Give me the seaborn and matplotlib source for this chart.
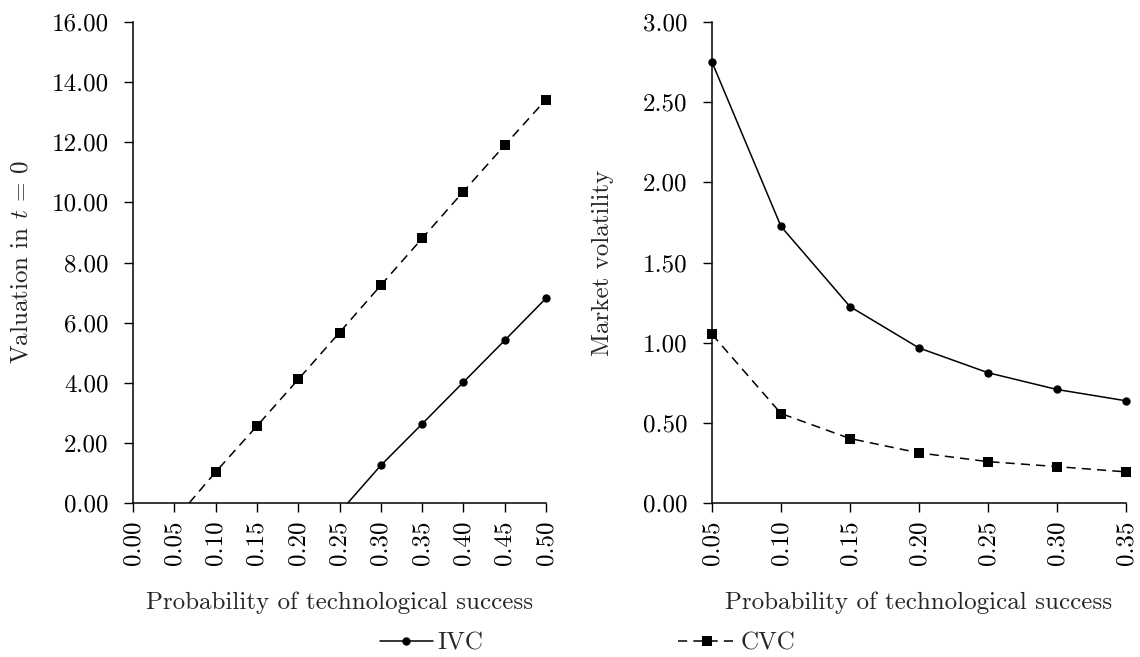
import matplotlib
matplotlib.use("Agg")
import matplotlib.pyplot as plt
import seaborn as sns
from matplotlib.lines import Line2D

# ---- data ----
left_x_cvc = [0.068, 0.10, 0.15, 0.20, 0.25, 0.30, 0.35, 0.40, 0.45, 0.50]
left_cvc = [0.0, 1.03, 2.56, 4.11, 5.67, 7.24, 8.80, 10.36, 11.90, 13.42]
left_x_ivc = [0.260, 0.30, 0.35, 0.40, 0.45, 0.50]
left_ivc = [0.0, 1.25, 2.63, 4.02, 5.41, 6.81]

right_x = [0.05, 0.10, 0.15, 0.20, 0.25, 0.30, 0.35]
right_ivc = [2.75, 1.725, 1.225, 0.967, 0.8125, 0.708, 0.6375]
right_cvc = [1.052, 0.558, 0.402, 0.3125, 0.258, 0.227, 0.194]

left_xticks = [0.00, 0.05, 0.10, 0.15, 0.20, 0.25, 0.30, 0.35, 0.40, 0.45, 0.50]
left_yticks = [0, 2, 4, 6, 8, 10, 12, 14, 16]
right_xticks = [0.05, 0.10, 0.15, 0.20, 0.25, 0.30, 0.35]
right_yticks = [0.0, 0.5, 1.0, 1.5, 2.0, 2.5, 3.0]

sns.set_theme(style="ticks")
plt.rcParams["font.family"] = ["cmr10", "DejaVu Serif"]
plt.rcParams["mathtext.fontset"] = "cm"
plt.rcParams["axes.formatter.use_mathtext"] = True
FS = 18

W, H = 1140, 657
fig = plt.figure(figsize=(W / 100, H / 100), dpi=100)
ax_top, ax_bot = 22, 503
ax1 = fig.add_axes([133 / W, 1 - ax_bot / H, (546 - 133) / W, (ax_bot - ax_top) / H])
ax2 = fig.add_axes([712 / W, 1 - ax_bot / H, (1126 - 712) / W, (ax_bot - ax_top) / H])

lw = 1.1
ms_c, ms_s = 6.0, 7.0
dash = (0, (6, 4))

sns.lineplot(x=left_x_cvc, y=left_cvc, ax=ax1, markevery=list(range(1, len(left_cvc))),
             color="black", linewidth=lw, marker="s", markersize=ms_s, linestyle=dash,
             markeredgewidth=0, clip_on=False)
sns.lineplot(x=left_x_ivc, y=left_ivc, ax=ax1, markevery=list(range(1, len(left_ivc))),
             color="black", linewidth=lw, marker="o", markersize=ms_c, linestyle="-",
             markeredgewidth=0, clip_on=False)

sns.lineplot(x=right_x, y=right_ivc, ax=ax2, color="black", linewidth=lw, marker="o",
             markersize=ms_c, linestyle="-", markeredgewidth=0, clip_on=False)
sns.lineplot(x=right_x, y=right_cvc, ax=ax2, color="black", linewidth=lw, marker="s",
             markersize=ms_s, linestyle=dash, markeredgewidth=0, clip_on=False)

for ax in (ax1, ax2):
    sns.despine(ax=ax)
    for s in ("left", "bottom"):
        ax.spines[s].set_linewidth(1.1)
        ax.spines[s].set_color("black")
        ax.spines[s].set_zorder(1)
    ax.tick_params(axis="both", direction="out", length=6.5, width=1.0, colors="black",
                   labelsize=FS)
    ax.tick_params(axis="y", pad=11)
    ax.tick_params(axis="x", labelrotation=90, pad=6)
    ax.grid(False)

ax1.set_xlim(0, 0.5)
ax1.set_ylim(0, 16)
ax1.set_xticks(left_xticks)
ax1.set_xticklabels([f"{v:.2f}" for v in left_xticks])
ax1.set_yticks(left_yticks)
ax1.set_yticklabels([f"{v:.2f}" for v in left_yticks])
ax1.set_xlabel("Probability of technological success", fontsize=FS, labelpad=19)
ax1.set_ylabel(r"Valuation in $t$ = $\mathit{0}$", fontsize=FS)
ax1.yaxis.set_label_coords((33 - 133) / 413, 0.5)

ax2.set_xlim(0.05, 0.35)
ax2.set_ylim(0, 3)
ax2.set_xticks(right_xticks)
ax2.set_xticklabels([f"{v:.2f}" for v in right_xticks])
ax2.set_yticks(right_yticks)
ax2.set_yticklabels([f"{v:.2f}" for v in right_yticks])
ax2.set_xlabel("Probability of technological success", fontsize=FS, labelpad=19)
ax2.set_ylabel("Market volatility", fontsize=FS)
ax2.yaxis.set_label_coords((614 - 712) / 414, 0.5)

h_ivc = Line2D([], [], color="black", linewidth=lw, marker="o", markersize=ms_c,
               linestyle="-", markeredgewidth=0)
h_cvc = Line2D([], [], color="black", linewidth=lw, marker="s", markersize=ms_s,
               linestyle=dash, markeredgewidth=0)
leg_y = 1 - 643 / H
for h, lab, x0, hl in ((h_ivc, "IVC", 380, 2.1), (h_cvc, "CVC", 678, 2.3)):
    fig.legend([h], [lab], loc="center left", bbox_to_anchor=(x0 / W, leg_y),
               frameon=False, fontsize=FS, handlelength=hl, handletextpad=0.2,
               borderpad=0, borderaxespad=0)

fig.savefig("out.png", dpi=100)
